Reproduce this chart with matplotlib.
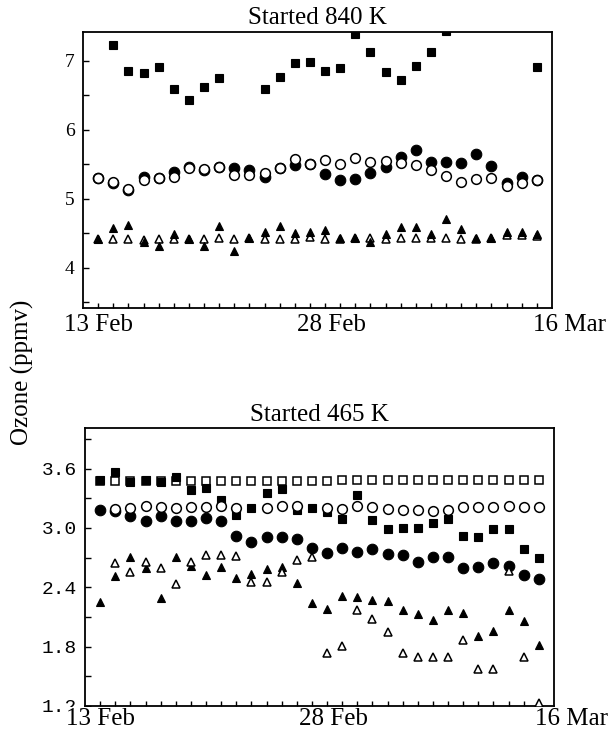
import numpy as np
import matplotlib
matplotlib.use("Agg")
import matplotlib.pyplot as plt
import matplotlib.transforms as mtransforms

# ---------------- data ----------------
days = list(range(1, 31))          # 14 Feb ... 15 Mar (one point per day)
date_labels = ["13 Feb", "28 Feb", "16 Mar"]
date_label_pos = [1.0, 16.4, 32.15]

nan = np.nan
# Top panel: started at 840 K
top_sq_filled = [nan, 7.23, 6.85, 6.83, 6.92, 6.59, 6.43, 6.62, 6.75, nan,
                 nan, 6.59, 6.77, 6.97, 6.98, 6.85, 6.90, 7.39, 7.13, 6.84,
                 6.72, 6.93, 7.13, 7.44, nan, nan, nan, nan, nan, 6.92]
top_circ_filled = [5.30, 5.23, 5.13, 5.32, 5.30, 5.39, 5.46, 5.42, 5.46, 5.45,
                   5.42, 5.32, 5.45, 5.49, 5.51, 5.36, 5.28, 5.29, 5.38, 5.46,
                   5.61, 5.71, 5.54, 5.54, 5.52, 5.65, 5.48, 5.23, 5.32, 5.28]
top_circ_open = [5.30, 5.25, 5.15, 5.28, 5.30, 5.32, 5.45, 5.44, 5.46, 5.35,
                 5.35, 5.37, 5.45, 5.58, 5.50, 5.57, 5.51, 5.59, 5.54, 5.55,
                 5.52, 5.49, 5.42, 5.33, 5.24, 5.29, 5.30, 5.19, 5.23, 5.28]
top_tri_filled = [4.42, 4.58, 4.62, 4.38, 4.32, 4.49, 4.42, 4.32, 4.61, 4.25,
                  4.43, 4.52, 4.61, 4.50, 4.52, 4.55, 4.43, 4.43, 4.38, 4.49,
                  4.59, 4.60, 4.49, 4.71, 4.56, 4.44, 4.43, 4.52, 4.52, 4.49]
top_tri_open = [4.42, 4.42, 4.42, 4.41, 4.42, 4.42, 4.42, 4.42, 4.43, 4.42,
                4.43, 4.42, 4.42, 4.42, 4.45, 4.42, 4.42, 4.44, 4.44, 4.42,
                4.43, 4.43, 4.43, 4.43, 4.42, 4.42, 4.43, 4.48, 4.48, 4.46]

# Bottom panel: started at 465 K
bot_sq_open = [3.47, 3.47, 3.47, 3.47, 3.47, 3.47, 3.47, 3.47, 3.47, 3.47,
               3.47, 3.47, 3.47, 3.47, 3.47, 3.47, 3.48, 3.48, 3.48, 3.48,
               3.48, 3.48, 3.48, 3.48, 3.48, 3.48, 3.48, 3.48, 3.48, 3.48]
bot_sq_filled = [3.48, 3.57, 3.46, 3.48, 3.46, 3.51, 3.38, 3.40, 3.28, 3.13,
                 3.20, 3.35, 3.39, 3.18, 3.20, 3.16, 3.09, 3.33, 3.08, 2.99,
                 3.00, 3.00, 3.05, 3.09, 2.92, 2.91, 2.99, 2.99, 2.79, 2.70]
bot_circ_open = [nan, 3.19, 3.20, 3.22, 3.21, 3.20, 3.21, 3.21, 3.22, 3.20,
                 nan, 3.20, 3.22, 3.22, nan, 3.20, 3.19, 3.22, 3.21, 3.19,
                 3.18, 3.18, 3.17, 3.18, 3.21, 3.21, 3.21, 3.22, 3.21, 3.21]
bot_circ_filled = [3.18, 3.17, 3.12, 3.07, 3.12, 3.07, 3.07, 3.10, 3.07, 2.92,
                   2.86, 2.91, 2.91, 2.89, 2.80, 2.75, 2.80, 2.76, 2.79, 2.74,
                   2.73, 2.66, 2.71, 2.71, 2.59, 2.60, 2.65, 2.62, 2.52, 2.48]
bot_tri_filled = [2.25, 2.51, 2.71, 2.59, 2.29, 2.71, 2.62, 2.52, 2.61, 2.49,
                  2.53, 2.58, 2.61, 2.44, 2.24, 2.18, 2.31, 2.30, 2.27, 2.26,
                  2.17, 2.13, 2.07, 2.17, 2.14, 1.91, 1.96, 2.17, 2.06, 1.82]
bot_tri_open = [nan, 2.65, 2.55, 2.66, 2.59, 2.43, 2.66, 2.73, 2.73, 2.72,
                2.45, 2.45, 2.55, 2.68, 2.71, 1.74, 1.81, 2.17, 2.08, 1.95,
                1.74, 1.70, 1.70, 1.70, 1.87, 1.57, 1.57, 2.56, 1.70, 1.23]

top_yticks = [4, 5, 6, 7]
top_yminor = [3.5, 4.5, 5.5, 6.5]
bot_yticks = [1.2, 1.8, 2.4, 3.0, 3.6]
bot_yminor = [1.5, 2.1, 2.7, 3.3, 3.9]

# ---------------- figure ----------------
W, H = 616, 736
fig = plt.figure(figsize=(W / 100, H / 100), dpi=100)
serif = ["Liberation Serif", "DejaVu Serif"]
mono = ["Liberation Mono", "DejaVu Sans Mono"]


def px_axes(l, t, r, b):
    return fig.add_axes([l / W, 1 - b / H, (r - l) / W, (b - t) / H])


ax1 = px_axes(83, 32, 552, 308)
ax2 = px_axes(85, 428, 554, 706)

SQ = 5.2
CI = 7.6
TR = 6.4


def draw(ax, x, y, marker, ms, filled, z):
    if filled:
        ax.plot(x, y, linestyle="none", marker=marker, ms=ms, mfc="black",
                mec="black", mew=0.8, zorder=z)
    else:
        ax.plot(x, y, linestyle="none", marker=marker, ms=ms, mfc="white",
                mec="black", mew=1.1, zorder=z)


# top panel
draw(ax1, days, top_sq_filled, "s", SQ, True, 3)
draw(ax1, days, top_circ_filled, "o", CI, True, 3)
draw(ax1, days, top_circ_open, "o", CI - 0.6, False, 4)
draw(ax1, days, top_tri_open, "^", TR - 0.6, False, 4)
draw(ax1, days, top_tri_filled, "^", TR, True, 5)

# bottom panel
draw(ax2, days, bot_sq_open, "s", SQ, False, 3)
draw(ax2, days, bot_sq_filled, "s", SQ, True, 4)
draw(ax2, days, bot_circ_filled, "o", CI, True, 3)
draw(ax2, days, bot_circ_open, "o", CI - 0.6, False, 4)
draw(ax2, days, bot_tri_filled, "^", TR, True, 3)
draw(ax2, days, bot_tri_open, "^", TR, False, 4)

for ax, yt, ym, ylim, fam, lab_dy in [
        (ax1, top_yticks, top_yminor, (3.42, 7.42), serif, -6),
        (ax2, bot_yticks, bot_yminor, (1.2, 4.01), mono, -2)]:
    ax.set_xlim(0, 31)
    ax.set_ylim(*ylim)
    ax.set_xticks(days)
    ax.set_xticklabels([])
    ax.set_yticks(yt)
    ax.set_yticks(ym, minor=True)
    if ax is ax1:
        ax.set_yticklabels([str(v) for v in yt], family=fam, fontsize=14)
    else:
        ax.set_yticklabels([f"{v:.1f}" for v in yt], family=fam, fontsize=14)
    ax.tick_params(axis="both", which="both", direction="in", top=False,
                   right=False, length=4.5, width=1.0, pad=6)
    ax.tick_params(axis="x", length=3.5)
    for s in ax.spines.values():
        s.set_linewidth(1.3)
    trans = mtransforms.blended_transform_factory(ax.transData, ax.transAxes)
    off = mtransforms.offset_copy(trans, fig=fig, x=0, y=lab_dy, units="dots")
    for lbl, pos in zip(date_labels, date_label_pos):
        t = ax.text(pos, 0, lbl, transform=off, ha="center", va="top",
                    family=serif, fontsize=18, clip_on=False, zorder=10)
        if ax is ax2:
            t.set_bbox(dict(facecolor="white", edgecolor="none", pad=0.5))

ax1.set_title("Started 840 K", family=serif, fontsize=18, pad=6)
ax2.set_title("Started 465 K", family=serif, fontsize=18, pad=5)

fig.text(22 / W, 1 - 372 / H, "Ozone (ppmv)", rotation=90, ha="center",
         va="center", family=serif, fontsize=18)

fig.savefig("out.png", dpi=100)
